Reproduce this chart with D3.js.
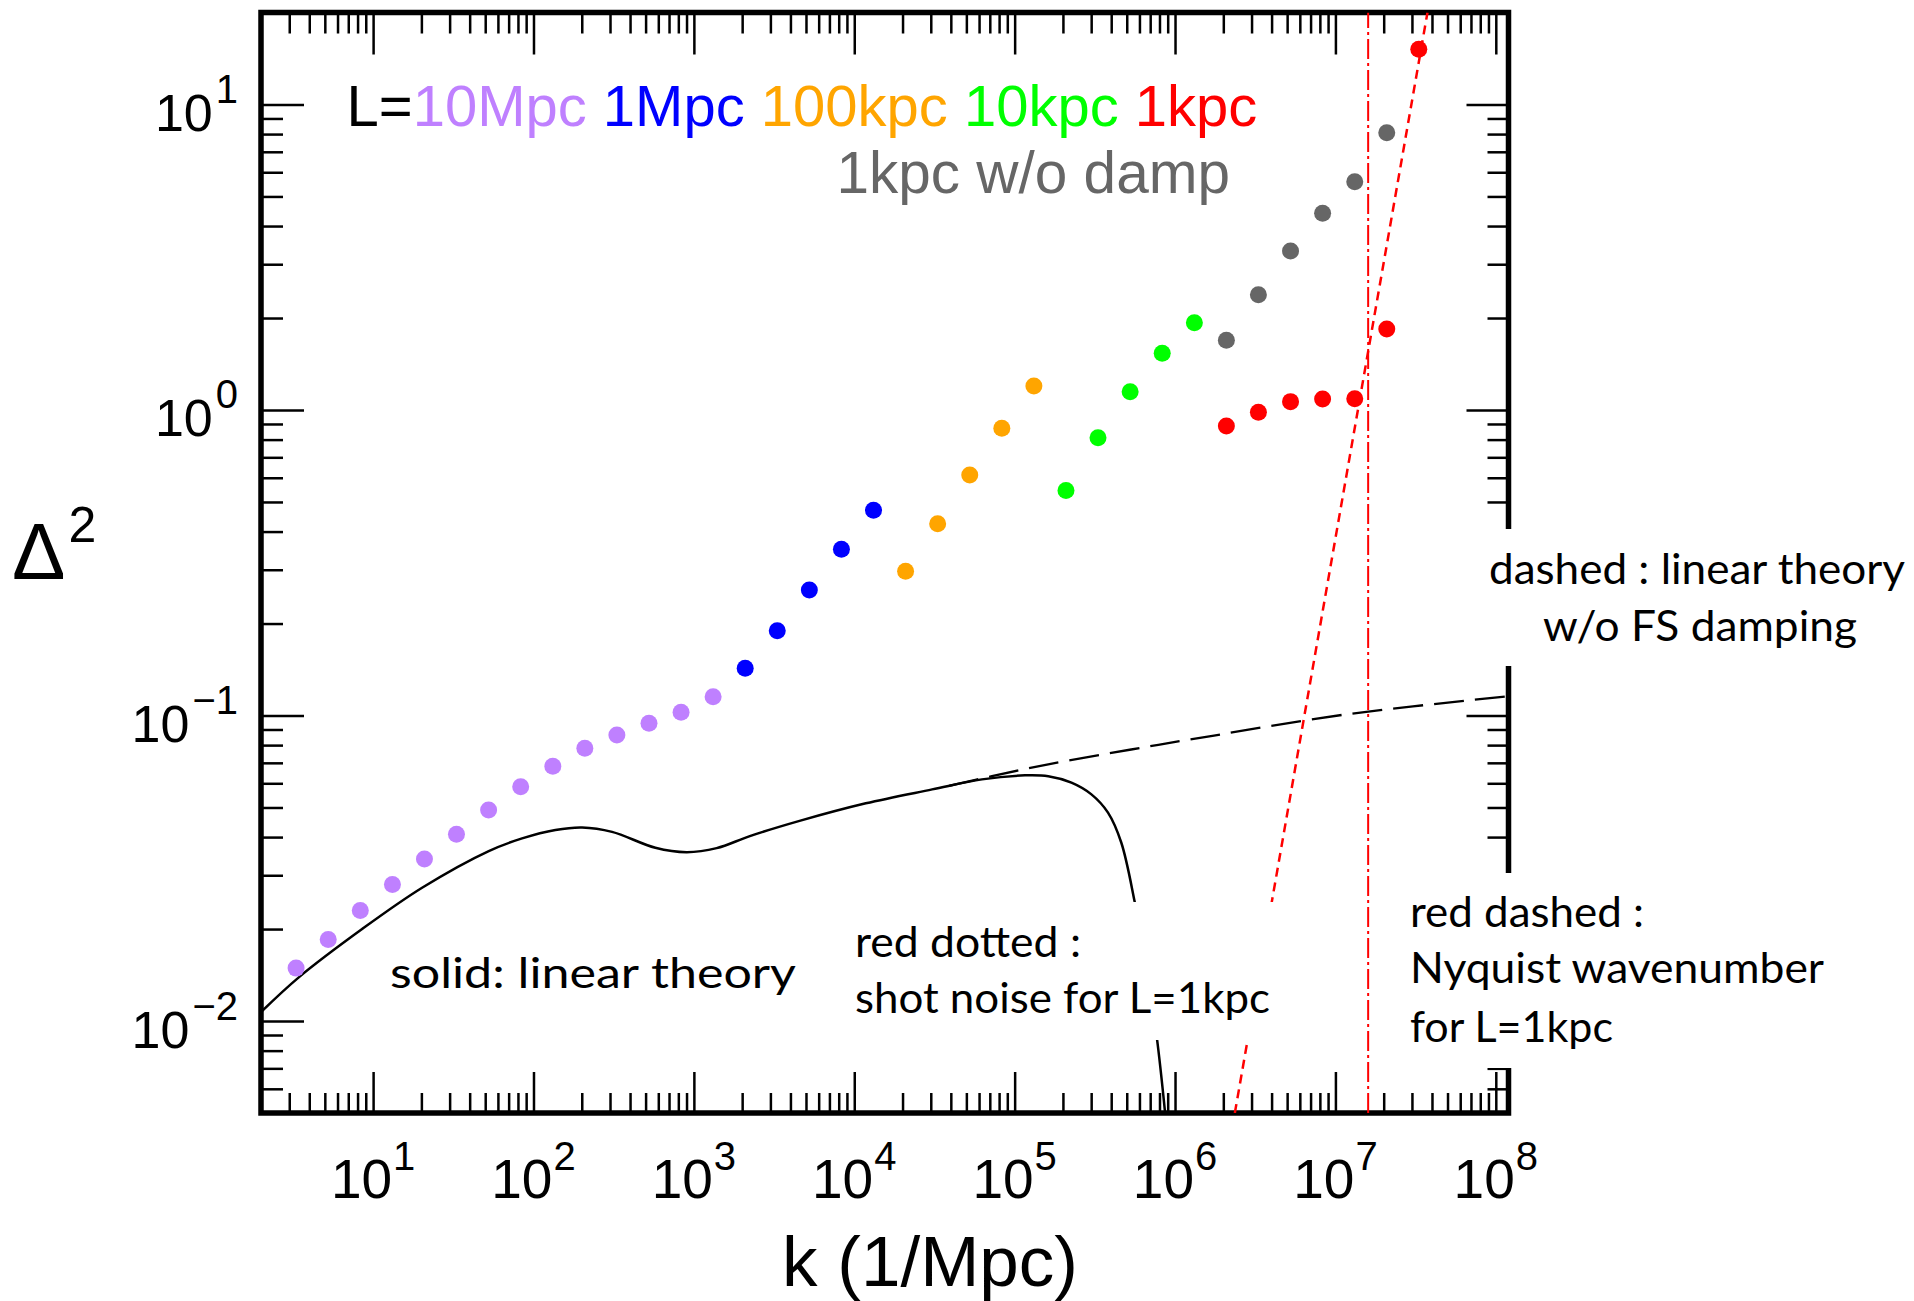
<!DOCTYPE html>
<html lang="en">
<head>
<meta charset="UTF-8">
<title>Delta^2 vs k</title>
<script src="https://d3js.org/d3.v7.min.js"></script>
<style>
  body { margin: 0; background: #fff; }
  svg { display: block; }
  .tick line { stroke: #000; stroke-width: 2.5; }
  .lbl { font-family: 'Liberation Sans', Arial, sans-serif; }
  .note { font-family: 'Lato', sans-serif; font-size: 42px; fill: #000; }
</style>
</head>
<body>
<svg id="chart" width="1914" height="1301"></svg>
<script>
// measured power spectrum points, k in 1/Mpc
const kPurple = [3.31, 5.25, 8.32, 13.2, 20.9, 33.1, 52.5, 83.2, 132, 209, 331, 525, 832, 1318];
const dPurple = [0.0149, 0.0185, 0.0230, 0.0280, 0.0339, 0.0409, 0.0491, 0.0585, 0.0682, 0.0781, 0.0864, 0.0943, 0.1024, 0.1152];
const kBlue = [2089, 3311, 5248, 8318, 13183];
const dBlue = [0.1427, 0.1895, 0.2576, 0.3499, 0.4695];
const kOrange = [20893, 33113, 52481, 83176, 131826];
const dOrange = [0.2965, 0.4244, 0.6125, 0.8712, 1.198];
const kGreen = [2.09e5, 3.31e5, 5.25e5, 8.32e5, 1.32e6];
const dGreen = [0.5451, 0.8115, 1.148, 1.533, 1.931];
const kRed = [2.09e6, 3.31e6, 5.25e6, 8.32e6, 1.32e7, 2.09e7, 3.31e7];
const dRed = [0.8863, 0.9828, 1.065, 1.086, 1.089, 1.841, 15.16];
const kGrey = [2.09e6, 3.31e6, 5.25e6, 8.32e6, 1.32e7, 2.09e7];
const dGrey = [1.691, 2.385, 3.315, 4.405, 5.588, 8.085];

// linear theory (solid) and without free-streaming damping (dashed)
const kLin = [2.0, 3.44, 8.54, 20.2, 52.6, 84.9, 137, 201, 309, 575, 900, 1387, 2234, 4560, 11800, 30600, 62500,
              116000, 162000, 226000, 301000, 382000, 462000, 559000, 660000, 769000, 866000];
const dLin = [0.0107, 0.0139, 0.0200, 0.0273, 0.0360, 0.0396, 0.0422, 0.0430, 0.0416, 0.0369, 0.0357, 0.0368, 0.0403,
              0.0452, 0.0516, 0.0573, 0.0618, 0.0637, 0.0633, 0.0603, 0.0552, 0.0481, 0.0384, 0.0247, 0.0151, 0.00887, 0.00504];
const kNoDamp = [3.9e4, 7.22e4, 1.62e5, 5.33e5, 1.75e6, 1.11e7, 1.2e8];
const dNoDamp = [0.0588, 0.0633, 0.0692, 0.0774, 0.0860, 0.1005, 0.1157];

// shot noise for L=1kpc (red dotted) and Nyquist wavenumber (red dash-dot)
const kShot = [2.36e6, 3.75e7];
const dShot = [0.005, 20];
const kNyquist = 1.6e7;

const seriesNames = ["10Mpc", "1Mpc", "100kpc", "10kpc", "1kpc"];
const seriesColors = ["#bf80ff", "#0000ff", "#ffa500", "#00ff00", "#ff0000"];
const greyColor = "#666666";

const xExponents = [1, 2, 3, 4, 5, 6, 7, 8];
const yExponents = [-2, -1, 0, 1];

const svg = d3.select("#chart");
const x = d3.scaleLog().domain([2, 1.2e8]).range([261, 1508.5]);
const y = d3.scaleLog().domain([0.005, 20]).range([1113, 12.5]);
const [x0, x1] = x.range();
const [y0, y1] = y.range();

svg.append("defs").append("clipPath").attr("id", "plot")
  .append("rect").attr("x", x0).attr("y", y1).attr("width", x1 - x0).attr("height", y0 - y1);

// ticks on all four sides, pointing inward
const xMajor = xExponents.map(e => Math.pow(10, e));
const yMajor = yExponents.map(e => Math.pow(10, e));
const isMajor = v => Math.abs(Math.log10(v) - Math.round(Math.log10(v))) < 1e-9;
const xMinor = x.ticks().filter(v => !isMajor(v));
const yMinor = y.ticks().filter(v => !isMajor(v));

function axisGroup(axis, tx, ty) {
  svg.append("g").attr("transform", `translate(${tx},${ty})`)
    .call(axis)
    .call(g => g.select(".domain").remove())
    .call(g => g.selectAll(".tick text").remove());
}
axisGroup(d3.axisBottom(x).tickValues(xMinor).tickSize(-20), 0, y0);
axisGroup(d3.axisBottom(x).tickValues(xMajor).tickSize(-41), 0, y0);
axisGroup(d3.axisTop(x).tickValues(xMinor).tickSize(-21), 0, y1);
axisGroup(d3.axisTop(x).tickValues(xMajor).tickSize(-42), 0, y1);
axisGroup(d3.axisLeft(y).tickValues(yMinor).tickSize(-22), x0, 0);
axisGroup(d3.axisLeft(y).tickValues(yMajor).tickSize(-43), x0, 0);
axisGroup(d3.axisRight(y).tickValues(yMinor).tickSize(-21), x1, 0);
axisGroup(d3.axisRight(y).tickValues(yMajor).tickSize(-42), x1, 0);

svg.append("rect")
  .attr("x", x0).attr("y", y1).attr("width", x1 - x0).attr("height", y0 - y1)
  .attr("fill", "none").attr("stroke", "#000").attr("stroke-width", 5.5);

// tick labels
const sup = e => (e < 0 ? "\u2212" + (-e) : String(e));
xExponents.forEach(e => {
  const t = svg.append("text").attr("class", "lbl")
    .attr("x", x(Math.pow(10, e))).attr("y", 1198).attr("text-anchor", "middle");
  t.append("tspan").attr("font-size", 55).text("10");
  t.append("tspan").attr("font-size", 40).attr("dy", -28).attr("dx", 1).text(sup(e));
});
yExponents.forEach(e => {
  const t = svg.append("text").attr("class", "lbl")
    .attr("x", 238).attr("y", y(Math.pow(10, e)) + 26.5).attr("text-anchor", "end");
  t.append("tspan").attr("font-size", 52).text("10");
  t.append("tspan").attr("font-size", 40).attr("dy", -28).attr("dx", 3).text(sup(e));
});

// axis titles
svg.append("text").attr("class", "lbl").attr("x", 930).attr("y", 1286)
  .attr("text-anchor", "middle").attr("font-size", 71).text("k (1/Mpc)");
const yt = svg.append("text").attr("class", "lbl").attr("x", 12).attr("y", 579);
yt.append("tspan").attr("font-size", 80).text("\u0394");
yt.append("tspan").attr("font-size", 50).attr("dy", -37).attr("dx", 3).text("2");

// curves
const plot = svg.append("g").attr("clip-path", "url(#plot)");
const line = d3.line().x(d => x(d[0])).y(d => y(d[1])).curve(d3.curveCatmullRom.alpha(0.5));
const zip = (a, b) => a.map((v, i) => [v, b[i]]);

plot.append("path").datum(zip(kLin, dLin)).attr("d", line)
  .attr("fill", "none").attr("stroke", "#000").attr("stroke-width", 2.5);
plot.append("path").datum(zip(kNoDamp, dNoDamp)).attr("d", line)
  .attr("fill", "none").attr("stroke", "#000").attr("stroke-width", 2.3)
  .attr("stroke-dasharray", "30,11");
plot.append("path").datum(zip(kShot, dShot)).attr("d", d3.line().x(d => x(d[0])).y(d => y(d[1])))
  .attr("fill", "none").attr("stroke", "#ff0000").attr("stroke-width", 2.5)
  .attr("stroke-dasharray", "9,6");
plot.append("line")
  .attr("x1", x(kNyquist)).attr("x2", x(kNyquist)).attr("y1", y0).attr("y2", y1)
  .attr("stroke", "#ff0000").attr("stroke-width", 2).attr("stroke-dasharray", "20,4,3,4");

// points
const groups = [
  [kPurple, dPurple, seriesColors[0]],
  [kBlue, dBlue, seriesColors[1]],
  [kOrange, dOrange, seriesColors[2]],
  [kGreen, dGreen, seriesColors[3]],
  [kGrey, dGrey, greyColor],
  [kRed, dRed, seriesColors[4]]
];
groups.forEach(([ks, ds, c]) => {
  plot.append("g").selectAll("circle").data(zip(ks, ds)).join("circle")
    .attr("cx", d => x(d[0])).attr("cy", d => y(d[1])).attr("r", 8.5).attr("fill", c);
});

// white backing behind the annotation blocks
[[850, 902, 432, 138], [1486, 529, 428, 137], [1405, 873, 435, 195]].forEach(b => {
  svg.append("rect").attr("x", b[0]).attr("y", b[1]).attr("width", b[2]).attr("height", b[3]).attr("fill", "#fff");
});

// legend
const leg = svg.append("text").attr("class", "lbl").attr("x", 346.5).attr("y", 126)
  .attr("font-size", 58).style("white-space", "pre");
leg.append("tspan").attr("fill", "#000").text("L=");
seriesNames.forEach((n, i) => {
  leg.append("tspan").attr("fill", seriesColors[i]).text(n + (i < seriesNames.length - 1 ? " " : ""));
});
svg.append("text").attr("class", "lbl").attr("x", 836.5).attr("y", 193)
  .attr("font-size", 58.5).attr("fill", greyColor).text("1kpc w/o damp");

// annotations
const notes = [
  ["solid: linear theory", 390, 988, 406],
  ["red dotted :", 855, 957, 226],
  ["shot noise for L=1kpc", 855, 1013, 415],
  ["dashed : linear theory", 1489, 584, 416],
  ["w/o FS damping", 1543, 641, 314],
  ["red dashed :", 1410, 927, 234],
  ["Nyquist wavenumber", 1410, 983, 414],
  ["for L=1kpc", 1410, 1042, 203]
];
notes.forEach(([s, nx, ny, len]) => {
  svg.append("text").attr("class", "note").attr("x", nx).attr("y", ny)
    .attr("textLength", len).attr("lengthAdjust", "spacingAndGlyphs").text(s);
});
</script>
</body>
</html>
